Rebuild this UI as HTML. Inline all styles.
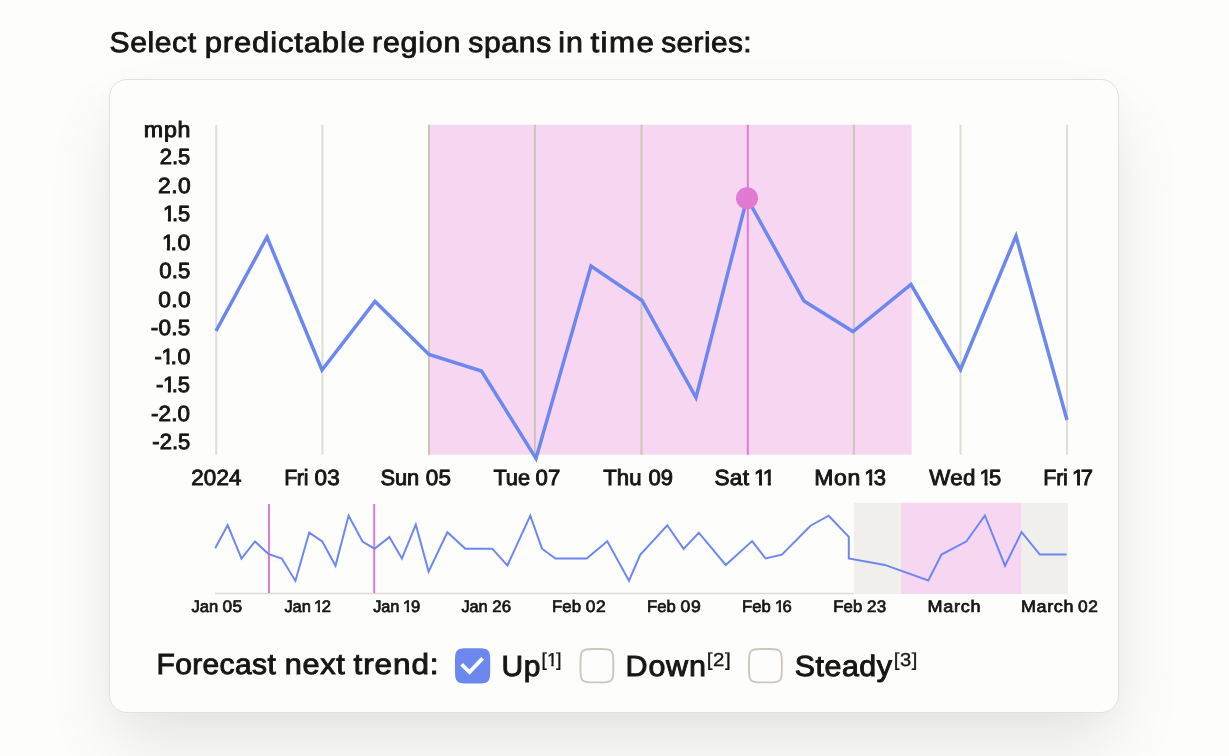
<!DOCTYPE html>
<html><head><meta charset="utf-8"><title>Select predictable region spans</title>
<style>
html,body{margin:0;padding:0;background:#fdfdfb;}
body{width:1229px;height:756px;overflow:hidden;background:#fdfdfb;position:relative;font-family:"Liberation Sans",sans-serif;}
.card{position:absolute;left:109px;top:79px;width:1010px;height:634px;box-sizing:border-box;border:1px solid #e4e1db;border-radius:18px;background:#fdfdfb;box-shadow:0 36px 70px -6px rgba(0,0,0,0.1),0 4px 30px rgba(0,0,0,0.02);}
svg{position:absolute;left:0;top:0;}
svg text{font-family:"Liberation Sans",sans-serif;text-rendering:geometricPrecision;}
</style></head><body>
<div class="card"></div>
<svg width="1229" height="756" viewBox="0 0 1229 756">
<text transform="translate(109.45 0) scale(1.0558 1)" x="0" y="52.20" font-size="28.5" letter-spacing="0.578" fill="#161616" stroke="#161616" stroke-width="0.85">Select</text>
<text transform="translate(204.71 0) scale(1.0875 1)" x="0" y="52.20" font-size="28.5" letter-spacing="0.791" fill="#161616" stroke="#161616" stroke-width="0.85">predictable</text>
<text transform="translate(372.03 0) scale(1.0678 1)" x="0" y="52.20" font-size="28.5" letter-spacing="0.689" fill="#161616" stroke="#161616" stroke-width="0.85">region</text>
<text transform="translate(468.26 0) scale(1.0533 1)" x="0" y="52.20" font-size="28.5" letter-spacing="0.659" fill="#161616" stroke="#161616" stroke-width="0.85">spans</text>
<text transform="translate(558.23 0) scale(1.0675 1)" x="0" y="52.20" font-size="28.5" letter-spacing="0.890" fill="#161616" stroke="#161616" stroke-width="0.85">in</text>
<text transform="translate(590.50 0) scale(1.1000 1)" x="0" y="52.20" font-size="28.5" letter-spacing="1.242" fill="#161616" stroke="#161616" stroke-width="0.85">time</text>
<text transform="translate(661.17 0) scale(1.0465 1)" x="0" y="52.20" font-size="28.5" letter-spacing="0.418" fill="#161616" stroke="#161616" stroke-width="0.85">series:</text>
<rect x="428" y="124.8" width="483.6" height="329.9" fill="#f6d6f1"/>
<line x1="216.2" y1="124.8" x2="216.2" y2="454.7" stroke="#e0ddd6" stroke-width="2"/>
<line x1="322.4" y1="124.8" x2="322.4" y2="454.7" stroke="#e0ddd6" stroke-width="2"/>
<line x1="429" y1="124.8" x2="429" y2="454.7" stroke="#cbc6ba" stroke-width="2"/>
<line x1="534.9" y1="124.8" x2="534.9" y2="454.7" stroke="#cbc6ba" stroke-width="2"/>
<line x1="641.5" y1="124.8" x2="641.5" y2="454.7" stroke="#cbc6ba" stroke-width="2"/>
<line x1="853.9" y1="124.8" x2="853.9" y2="454.7" stroke="#cbc6ba" stroke-width="2"/>
<line x1="960.5" y1="124.8" x2="960.5" y2="454.7" stroke="#e0ddd6" stroke-width="2"/>
<line x1="1067" y1="124.8" x2="1067" y2="454.7" stroke="#e0ddd6" stroke-width="2"/>
<line x1="747.8" y1="124.8" x2="747.8" y2="454.7" stroke="#e07ad3" stroke-width="2"/>
<polyline points="216,331 267,237 322,370 375,301.5 429,354.5 481.5,371 536,458.5 591,266 642,300.5 696,397.5 747,198 804,301 853,331.5 911,284.5 960.5,369.5 1016,236 1067,420" fill="none" stroke="#6c88ef" stroke-width="3.5" stroke-linejoin="miter" stroke-miterlimit="10"/>
<circle cx="747" cy="198.3" r="11" fill="#e07ad3"/>
<text transform="translate(143.75 0) scale(1.0559 1)" x="0" y="136.70" font-size="22" letter-spacing="0.757" fill="#161616" stroke="#161616" stroke-width="0.9">mph</text>
<text x="159.74" y="164.20" font-size="22" letter-spacing="0.012" fill="#161616" stroke="#161616" stroke-width="0.9">2.5</text>
<text transform="translate(158.12 0) scale(1.0385 1)" x="0" y="192.70" font-size="22" letter-spacing="0.375" fill="#161616" stroke="#161616" stroke-width="0.9">2.0</text>
<clipPath id="c1_10"><rect x="159.97" y="199.20" width="15.40" height="19.15"/><rect x="167.92" y="217.85" width="2.97" height="5.85"/></clipPath><text clip-path="url(#c1_10)" x="162.97" y="221.20" font-size="22" fill="#161616" stroke="#161616" stroke-width="0.9">1</text>
<text transform="translate(171.94 0) scale(0.9951 1)" x="0" y="221.20" font-size="22" letter-spacing="-0.053" fill="#161616" stroke="#161616" stroke-width="0.9">.5</text>
<clipPath id="c1_12"><rect x="158.97" y="227.70" width="15.40" height="19.15"/><rect x="166.92" y="246.35" width="2.97" height="5.85"/></clipPath><text clip-path="url(#c1_12)" x="161.97" y="249.70" font-size="22" fill="#161616" stroke="#161616" stroke-width="0.9">1</text>
<text transform="translate(170.55 0) scale(1.0526 1)" x="0" y="249.70" font-size="22" letter-spacing="0.572" fill="#161616" stroke="#161616" stroke-width="0.9">.0</text>
<text transform="translate(159.30 0) scale(1.0100 1)" x="0" y="278.20" font-size="22" letter-spacing="0.100" fill="#161616" stroke="#161616" stroke-width="0.9">0.5</text>
<text transform="translate(158.20 0) scale(1.0365 1)" x="0" y="306.70" font-size="22" letter-spacing="0.364" fill="#161616" stroke="#161616" stroke-width="0.9">0.0</text>
<text transform="translate(150.85 0) scale(1.0244 1)" x="0" y="335.20" font-size="22" letter-spacing="0.199" fill="#161616" stroke="#161616" stroke-width="0.9">-0.5</text>
<text x="154.58" y="363.70" font-size="22" fill="#161616" stroke="#161616" stroke-width="0.9">-</text>
<clipPath id="c1_18"><rect x="158.52" y="341.70" width="15.40" height="19.15"/><rect x="166.47" y="360.35" width="2.97" height="5.85"/></clipPath><text clip-path="url(#c1_18)" x="161.52" y="363.70" font-size="22" fill="#161616" stroke="#161616" stroke-width="0.9">1</text>
<text transform="translate(170.55 0) scale(1.0526 1)" x="0" y="363.70" font-size="22" letter-spacing="0.572" fill="#161616" stroke="#161616" stroke-width="0.9">.0</text>
<text x="155.98" y="392.20" font-size="22" fill="#161616" stroke="#161616" stroke-width="0.9">-</text>
<clipPath id="c1_21"><rect x="159.92" y="370.20" width="15.40" height="19.15"/><rect x="167.87" y="388.85" width="2.97" height="5.85"/></clipPath><text clip-path="url(#c1_21)" x="162.92" y="392.20" font-size="22" fill="#161616" stroke="#161616" stroke-width="0.9">1</text>
<text x="171.73" y="392.20" font-size="22" letter-spacing="0.027" fill="#161616" stroke="#161616" stroke-width="0.9">.5</text>
<text transform="translate(150.95 0) scale(1.0181 1)" x="0" y="420.70" font-size="22" letter-spacing="0.150" fill="#161616" stroke="#161616" stroke-width="0.9">-2.0</text>
<text x="152.36" y="449.20" font-size="22" letter-spacing="0.002" fill="#161616" stroke="#161616" stroke-width="0.9">-2.5</text>
<text transform="translate(191.13 0) scale(1.0168 1)" x="0" y="484.60" font-size="22" letter-spacing="0.180" fill="#161616" stroke="#161616" stroke-width="0.9">2024</text>
<text transform="translate(284.13 0) scale(0.9671 1)" x="0" y="484.60" font-size="22" letter-spacing="-0.264" fill="#161616" stroke="#161616" stroke-width="0.9">Fri</text>
<text transform="translate(314.40 0) scale(1.0223 1)" x="0" y="484.60" font-size="22" letter-spacing="0.356" fill="#161616" stroke="#161616" stroke-width="0.9">03</text>
<text transform="translate(380.51 0) scale(0.9941 1)" x="0" y="484.60" font-size="22" letter-spacing="-0.074" fill="#161616" stroke="#161616" stroke-width="0.9">Sun</text>
<text transform="translate(425.70 0) scale(1.0223 1)" x="0" y="484.60" font-size="22" letter-spacing="0.356" fill="#161616" stroke="#161616" stroke-width="0.9">05</text>
<text transform="translate(493.40 0) scale(0.9925 1)" x="0" y="484.60" font-size="22" letter-spacing="-0.091" fill="#161616" stroke="#161616" stroke-width="0.9">Tue</text>
<text transform="translate(535.60 0) scale(1.0075 1)" x="0" y="484.60" font-size="22" letter-spacing="0.120" fill="#161616" stroke="#161616" stroke-width="0.9">07</text>
<text transform="translate(603.20 0) scale(1.0079 1)" x="0" y="484.60" font-size="22" letter-spacing="0.098" fill="#161616" stroke="#161616" stroke-width="0.9">Thu</text>
<text x="648.50" y="484.60" font-size="22" letter-spacing="-0.040" fill="#161616" stroke="#161616" stroke-width="0.9">09</text>
<text transform="translate(714.49 0) scale(1.0256 1)" x="0" y="484.60" font-size="22" letter-spacing="0.279" fill="#161616" stroke="#161616" stroke-width="0.9">Sat</text>
<clipPath id="c1_35"><rect x="751.12" y="462.60" width="15.40" height="19.15"/><rect x="759.07" y="481.25" width="2.97" height="5.85"/></clipPath><text clip-path="url(#c1_35)" x="754.12" y="484.60" font-size="22" fill="#161616" stroke="#161616" stroke-width="0.9">1</text>
<clipPath id="c1_36"><rect x="759.87" y="462.60" width="15.40" height="19.15"/><rect x="767.82" y="481.25" width="2.97" height="5.85"/></clipPath><text clip-path="url(#c1_36)" x="762.87" y="484.60" font-size="22" fill="#161616" stroke="#161616" stroke-width="0.9">1</text>
<text transform="translate(814.15 0) scale(1.0461 1)" x="0" y="484.60" font-size="22" letter-spacing="0.626" fill="#161616" stroke="#161616" stroke-width="0.9">Mon</text>
<clipPath id="c1_38"><rect x="861.22" y="462.60" width="15.40" height="19.15"/><rect x="869.17" y="481.25" width="2.97" height="5.85"/></clipPath><text clip-path="url(#c1_38)" x="864.22" y="484.60" font-size="22" fill="#161616" stroke="#161616" stroke-width="0.9">1</text>
<text x="873.80" y="484.60" font-size="22" fill="#161616" stroke="#161616" stroke-width="0.9">3</text>
<text transform="translate(929.32 0) scale(1.0159 1)" x="0" y="484.60" font-size="22" letter-spacing="0.234" fill="#161616" stroke="#161616" stroke-width="0.9">Wed</text>
<clipPath id="c1_41"><rect x="976.57" y="462.60" width="15.40" height="19.15"/><rect x="984.52" y="481.25" width="2.97" height="5.85"/></clipPath><text clip-path="url(#c1_41)" x="979.57" y="484.60" font-size="22" fill="#161616" stroke="#161616" stroke-width="0.9">1</text>
<text x="988.98" y="484.60" font-size="22" fill="#161616" stroke="#161616" stroke-width="0.9">5</text>
<text transform="translate(1043.23 0) scale(0.9748 1)" x="0" y="484.60" font-size="22" letter-spacing="-0.203" fill="#161616" stroke="#161616" stroke-width="0.9">Fri</text>
<clipPath id="c1_44"><rect x="1069.07" y="462.60" width="15.40" height="19.15"/><rect x="1077.02" y="481.25" width="2.97" height="5.85"/></clipPath><text clip-path="url(#c1_44)" x="1072.07" y="484.60" font-size="22" fill="#161616" stroke="#161616" stroke-width="0.9">1</text>
<text x="1080.76" y="484.60" font-size="22" fill="#161616" stroke="#161616" stroke-width="0.9">7</text>
<rect x="854" y="502.8" width="214" height="91.2" fill="#f0efec"/>
<rect x="901.1" y="502.8" width="119.9" height="91.2" fill="#f6d6f1"/>
<line x1="215" y1="593.5" x2="854" y2="593.5" stroke="#dedad2" stroke-width="1.3"/>
<line x1="269" y1="504" x2="269" y2="593" stroke="#e07ad3" stroke-width="2"/>
<line x1="374.2" y1="504" x2="374.2" y2="593" stroke="#e07ad3" stroke-width="2"/>
<polyline points="215.2,548.3 227.7,525.1 241.5,558.6 255,541.5 268.6,554.1 281.8,558.6 295.4,580.9 309.2,532.6 322.3,541.5 335.5,565.7 348.6,515.6 362.5,541.5 374.5,548.7 389.4,537.1 401.9,558.6 415.8,524.5 428.6,571.6 447.4,532.2 465.3,548.7 492.2,548.7 507.4,565.4 530.3,515.6 542,548.7 555.4,558.6 586.7,558.6 607.3,541.3 629,580.7 640.2,554.9 667.3,525.3 683.6,548.9 698.8,532.7 725.7,565 752.1,541.1 765.6,558.5 781.9,554.7 810.5,525.7 828.7,515.7 848.8,536.9 848.8,558.5 884.9,564.9 928.3,580.5 941.5,554.6 966.5,541.3 984.9,515.5 1005,565.7 1021.6,532.1 1039.8,554.6 1066.5,554.6" fill="none" stroke="#6c88ef" stroke-width="2" stroke-linejoin="miter"/>
<text x="191.44" y="612.40" font-size="16.6" letter-spacing="-0.032" fill="#161616" stroke="#161616" stroke-width="0.72">Jan</text>
<text transform="translate(222.40 0) scale(1.0399 1)" x="0" y="612.40" font-size="16.6" letter-spacing="0.478" fill="#161616" stroke="#161616" stroke-width="0.72">05</text>
<text transform="translate(284.44 0) scale(0.9917 1)" x="0" y="612.40" font-size="16.6" letter-spacing="-0.072" fill="#161616" stroke="#161616" stroke-width="0.72">Jan</text>
<clipPath id="c1_49"><rect x="310.93" y="595.80" width="11.62" height="14.25"/><rect x="317.62" y="609.54" width="2.33" height="5.36"/></clipPath><text clip-path="url(#c1_49)" x="313.93" y="612.40" font-size="16.6" fill="#161616" stroke="#161616" stroke-width="0.72">1</text>
<text x="321.85" y="612.40" font-size="16.6" fill="#161616" stroke="#161616" stroke-width="0.72">2</text>
<text transform="translate(373.14 0) scale(0.9847 1)" x="0" y="612.40" font-size="16.6" letter-spacing="-0.133" fill="#161616" stroke="#161616" stroke-width="0.72">Jan</text>
<clipPath id="c1_52"><rect x="400.03" y="595.80" width="11.62" height="14.25"/><rect x="406.72" y="609.54" width="2.33" height="5.36"/></clipPath><text clip-path="url(#c1_52)" x="403.03" y="612.40" font-size="16.6" fill="#161616" stroke="#161616" stroke-width="0.72">1</text>
<text x="410.90" y="612.40" font-size="16.6" fill="#161616" stroke="#161616" stroke-width="0.72">9</text>
<text transform="translate(461.44 0) scale(0.9894 1)" x="0" y="612.40" font-size="16.6" letter-spacing="-0.093" fill="#161616" stroke="#161616" stroke-width="0.72">Jan</text>
<text transform="translate(492.30 0) scale(1.0150 1)" x="0" y="612.40" font-size="16.6" letter-spacing="0.180" fill="#161616" stroke="#161616" stroke-width="0.72">26</text>
<text transform="translate(551.89 0) scale(1.0108 1)" x="0" y="612.40" font-size="16.6" letter-spacing="0.098" fill="#161616" stroke="#161616" stroke-width="0.72">Feb</text>
<text transform="translate(585.80 0) scale(1.0492 1)" x="0" y="612.40" font-size="16.6" letter-spacing="0.586" fill="#161616" stroke="#161616" stroke-width="0.72">02</text>
<text transform="translate(647.00 0) scale(1.0042 1)" x="0" y="612.40" font-size="16.6" letter-spacing="0.038" fill="#161616" stroke="#161616" stroke-width="0.72">Feb</text>
<text transform="translate(680.50 0) scale(1.0585 1)" x="0" y="612.40" font-size="16.6" letter-spacing="0.696" fill="#161616" stroke="#161616" stroke-width="0.72">09</text>
<text transform="translate(742.00 0) scale(1.0042 1)" x="0" y="612.40" font-size="16.6" letter-spacing="0.038" fill="#161616" stroke="#161616" stroke-width="0.72">Feb</text>
<clipPath id="c1_61"><rect x="771.93" y="595.80" width="11.62" height="14.25"/><rect x="778.62" y="609.54" width="2.33" height="5.36"/></clipPath><text clip-path="url(#c1_61)" x="774.93" y="612.40" font-size="16.6" fill="#161616" stroke="#161616" stroke-width="0.72">1</text>
<text x="782.40" y="612.40" font-size="16.6" fill="#161616" stroke="#161616" stroke-width="0.72">6</text>
<text transform="translate(833.29 0) scale(1.0064 1)" x="0" y="612.40" font-size="16.6" letter-spacing="0.058" fill="#161616" stroke="#161616" stroke-width="0.72">Feb</text>
<text transform="translate(866.90 0) scale(1.0284 1)" x="0" y="612.40" font-size="16.6" letter-spacing="0.340" fill="#161616" stroke="#161616" stroke-width="0.72">23</text>
<text transform="translate(927.61 0) scale(1.0861 1)" x="0" y="612.40" font-size="16.6" letter-spacing="0.626" fill="#161616" stroke="#161616" stroke-width="0.72">March</text>
<text transform="translate(1020.92 0) scale(1.0822 1)" x="0" y="612.40" font-size="16.6" letter-spacing="0.599" fill="#161616" stroke="#161616" stroke-width="0.72">March</text>
<text transform="translate(1078.00 0) scale(1.0460 1)" x="0" y="612.40" font-size="16.6" letter-spacing="0.547" fill="#161616" stroke="#161616" stroke-width="0.72">02</text>
<text transform="translate(156.44 0) scale(1.0343 1)" x="0" y="673.80" font-size="29" letter-spacing="0.361" fill="#161616" stroke="#161616" stroke-width="0.95">Forecast</text>
<text transform="translate(284.84 0) scale(1.0560 1)" x="0" y="673.80" font-size="29" letter-spacing="0.666" fill="#161616" stroke="#161616" stroke-width="0.95">next</text>
<text transform="translate(353.55 0) scale(1.0863 1)" x="0" y="673.80" font-size="29" letter-spacing="0.817" fill="#161616" stroke="#161616" stroke-width="0.95">trend:</text>
<text transform="translate(501.48 0) scale(1.0265 1)" x="0" y="676.00" font-size="29.2" letter-spacing="0.609" fill="#161616" stroke="#161616" stroke-width="0.95">Up</text>
<text x="541.44" y="665.80" font-size="18.8" fill="#161616" stroke="#161616" stroke-width="0.35">[</text>
<clipPath id="c1_73"><rect x="543.96" y="647.00" width="13.16" height="16.47"/><rect x="551.38" y="662.97" width="2.15" height="5.33"/></clipPath><text clip-path="url(#c1_73)" x="546.96" y="665.80" font-size="18.8" fill="#161616" stroke="#161616" stroke-width="0.35">1</text>
<text x="556.29" y="665.80" font-size="18.8" fill="#161616" stroke="#161616" stroke-width="0.35">]</text>
<text transform="translate(625.60 0) scale(1.0454 1)" x="0" y="676.00" font-size="29.2" letter-spacing="0.716" fill="#161616" stroke="#161616" stroke-width="0.95">Down</text>
<text transform="translate(706.71 0) scale(1.0890 1)" x="0" y="665.80" font-size="18.8" letter-spacing="0.555" fill="#161616" stroke="#161616" stroke-width="0.35">[2]</text>
<text transform="translate(794.82 0) scale(1.0411 1)" x="0" y="676.00" font-size="29.2" letter-spacing="0.491" fill="#161616" stroke="#161616" stroke-width="0.95">Steady</text>
<text transform="translate(893.83 0) scale(1.0740 1)" x="0" y="665.80" font-size="18.8" letter-spacing="0.463" fill="#161616" stroke="#161616" stroke-width="0.35">[3]</text>
<path d="M467.00,648.20 H478.20 C488.40,648.20 490.20,650.00 490.20,660.20 V671.50 C490.20,681.70 488.40,683.50 478.20,683.50 H467.00 C456.80,683.50 455.00,681.70 455.00,671.50 V660.20 C455.00,650.00 456.80,648.20 467.00,648.20 Z" fill="#6c88ef"/>
<polyline points="461.6,664.3 469.5,672 482.6,658.4" fill="none" stroke="#fff" stroke-width="3.8" stroke-linecap="butt" stroke-linejoin="miter"/>
<path d="M592.00,649.00 H601.80 C611.57,649.00 613.30,650.73 613.30,660.50 V670.90 C613.30,680.67 611.57,682.40 601.80,682.40 H592.00 C582.23,682.40 580.50,680.67 580.50,670.90 V660.50 C580.50,650.73 582.23,649.00 592.00,649.00 Z" fill="none" stroke="#cdc8bd" stroke-width="1.9"/>
<path d="M760.50,649.00 H770.30 C780.07,649.00 781.80,650.73 781.80,660.50 V670.90 C781.80,680.67 780.07,682.40 770.30,682.40 H760.50 C750.73,682.40 749.00,680.67 749.00,670.90 V660.50 C749.00,650.73 750.73,649.00 760.50,649.00 Z" fill="none" stroke="#cdc8bd" stroke-width="1.9"/>
</svg>
</body></html>
